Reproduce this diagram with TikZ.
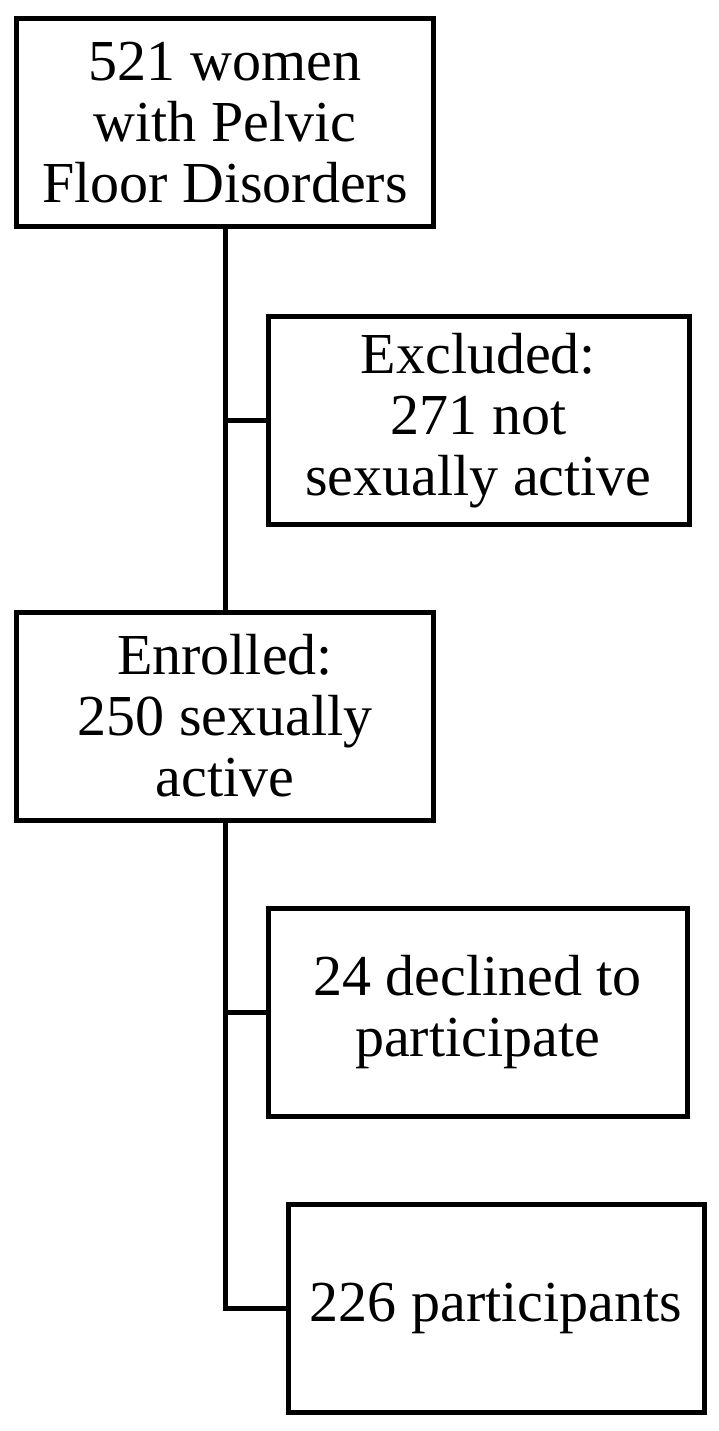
\documentclass[tikz,border=0pt]{standalone}
\usepackage{fontspec}
\setmainfont{Liberation Serif}
\begin{document}
\begin{tikzpicture}[x=1pt, y=-1pt, line width=5pt,
    flowbox/.style = {draw, rectangle, align=center, inner sep=0pt,
      minimum height=208pt, font=\fontsize{58}{61}\selectfont}]
  \useasboundingbox (0,0) rectangle (719,1431);
  \node[flowbox, minimum width=416.5pt] (women) at (225,122.5) {521 women\\with Pelvic\\Floor Disorders};
  \node[flowbox, minimum width=421pt] (excluded) at (478.5,420.5) {Excluded:\\271 not\\sexually active};
  \node[flowbox, minimum width=416.5pt] (enrolled) at (225,716) {Enrolled:\\250 sexually\\active};
  \node[flowbox, minimum width=419pt] (declined) at (477.5,1012) {24 declined to\\participate};
  \node[flowbox, minimum width=416pt] (participants) at (496,1308.5) {226 participants};
  \draw (women.south) -- (enrolled.north);
  \draw (women.south |- excluded.west) -- (excluded.west);
  \draw (enrolled.south) |- (participants.west);
  \draw (enrolled.south |- declined.west) -- (declined.west);
\end{tikzpicture}
\end{document}
